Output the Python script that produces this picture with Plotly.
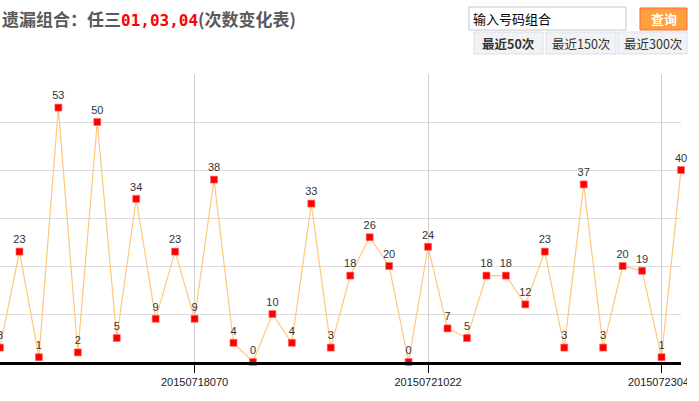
import plotly.graph_objects as go

# ---- data ----
values = [3, 23, 1, 53, 2, 50, 5, 34, 9, 23, 9, 38, 4, 0, 10, 4, 33, 3, 18, 26,
          20, 0, 24, 7, 5, 18, 18, 12, 23, 3, 37, 3, 20, 19, 1, 40]
x_index = list(range(len(values)))
tick_index = [10, 22, 34]
tick_labels = ["20150718070", "20150721022", "20150723046"]
combo = "01,03,04"
buttons = ["最近50次", "最近150次", "最近300次"]

W, H = 699, 401
L, R, T, B = 0, 18, 74, 39
PW, PH = W - L - R, H - T - B


def px(x):
    return (x - L) / PW


def py(y):
    return (H - B - y) / PH


fig = go.Figure()
fig.add_trace(go.Scatter(
    x=x_index, y=values,
    mode="lines+markers+text",
    text=[str(v) for v in values],
    textposition="top center",
    textfont=dict(family="Liberation Sans, Arial", size=11, color="#333333"),
    line=dict(color="#FFC87C", width=1.2),
    marker=dict(symbol="square", size=7, color="#FF0000",
                line=dict(color="rgba(255,110,110,0.6)", width=1)),
    cliponaxis=False,
    hoverinfo="skip",
))

shapes = []
annotations = []

# title
annotations.append(dict(
    xref="paper", yref="paper", x=px(0), y=py(18), xanchor="left", yanchor="middle",
    showarrow=False,
    text=("<b>遗漏组合：任三</b><span style='font-family:DejaVu Sans Mono;color:#FF0000;font-size:16px'><b>"
          + combo + "</b></span><b>(次数变化表)</b>"),
    font=dict(family="Noto Sans CJK SC", size=17, color="#5A5A5A"),
))

# input box
shapes.append(dict(type="rect", xref="paper", yref="paper",
                   x0=px(469), x1=px(626), y0=py(30), y1=py(7),
                   line=dict(color="#C8C8C8", width=1), fillcolor="#FFFFFF", layer="above"))
annotations.append(dict(xref="paper", yref="paper", x=px(471), y=py(19),
                        xanchor="left", yanchor="middle", showarrow=False,
                        text="输入号码组合",
                        font=dict(family="Noto Sans CJK SC", size=13, color="#000000")))
# query button
shapes.append(dict(type="rect", xref="paper", yref="paper",
                   x0=px(640), x1=px(687), y0=py(30), y1=py(8),
                   line=dict(color="#FF6A3A", width=1), fillcolor="#FFA040", layer="above"))
annotations.append(dict(xref="paper", yref="paper", x=px(663.5), y=py(18),
                        xanchor="center", yanchor="middle", showarrow=False,
                        text="<b>查询</b>",
                        font=dict(family="Noto Sans CJK SC", size=13, color="#FFFFFF")))

# range buttons
btn_x = [(474, 543), (546, 616), (618, 687)]
for i, (label, (a, b)) in enumerate(zip(buttons, btn_x)):
    shapes.append(dict(type="rect", xref="paper", yref="paper",
                       x0=px(a), x1=px(b), y0=py(54), y1=py(32),
                       line=dict(color="#D3E1F5", width=1), fillcolor="#F2F2F2", layer="above"))
    annotations.append(dict(xref="paper", yref="paper", x=px((a + b) / 2), y=py(43),
                            xanchor="center", yanchor="middle", showarrow=False,
                            text=("<b>" + label + "</b>") if i == 0 else label,
                            font=dict(family="Noto Sans CJK SC", size=12.5, color="#333333")))

# clip the chart at the container edge
shapes.append(dict(type="rect", xref="paper", yref="paper",
                   x0=px(687), x1=px(705), y0=py(398), y1=py(366),
                   line=dict(width=0), fillcolor="#FFFFFF", layer="above"))

fig.update_layout(
    width=W, height=H,
    margin=dict(l=L, r=R, t=T, b=B, pad=0),
    paper_bgcolor="#FFFFFF", plot_bgcolor="#FFFFFF",
    showlegend=False,
    shapes=shapes, annotations=annotations,
    xaxis=dict(range=[0, len(values) - 1], tickmode="array", tickvals=tick_index,
               ticktext=tick_labels, showgrid=True, gridcolor="#D0D0D0", gridwidth=1,
               zeroline=False, showline=True, linecolor="#000000", linewidth=3,
               ticks="outside", ticklen=8, tickcolor="#000000", tickwidth=1,
               tickfont=dict(family="Liberation Sans, Arial", size=11, color="#222222"),
               automargin=False, fixedrange=True),
    yaxis=dict(range=[0, 60], dtick=10, showgrid=True, gridcolor="#DCDCDC", gridwidth=1,
               zeroline=False, showline=False, showticklabels=False, ticks="",
               automargin=False, fixedrange=True),
)

fig.write_html("out.html", config={"displayModeBar": False},
               post_script="document.body.style.margin='0';document.body.style.overflow='hidden';")
